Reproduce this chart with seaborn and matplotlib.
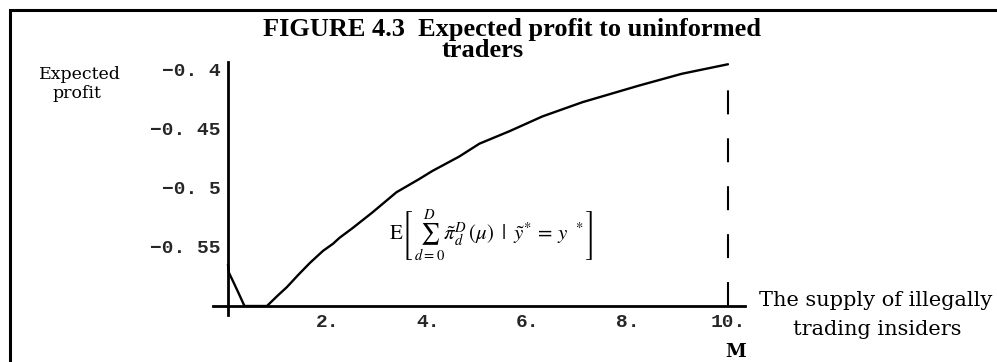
import matplotlib
matplotlib.use("Agg")
import matplotlib.pyplot as plt
from matplotlib.patches import Rectangle
import seaborn as sns
import pandas as pd

# Expected profit to uninformed traders as a function of the insider supply
supply = [0.0, 0.02, 0.1, 0.2, 0.33, 0.5, 0.65, 0.78, 1.0, 1.18, 1.4, 1.64, 1.9,
          2.1, 2.23, 2.5, 2.89, 3.37, 3.82, 4.09, 4.62, 5.03, 5.63, 6.29, 7.09,
          8.22, 9.08, 10.0]
profit = [-0.565, -0.572, -0.579, -0.588, -0.6, -0.6, -0.6, -0.6, -0.591, -0.584,
          -0.574, -0.5636, -0.5535, -0.5475, -0.5425, -0.534, -0.521, -0.504,
          -0.493, -0.486, -0.474, -0.463, -0.4525, -0.44, -0.428, -0.414,
          -0.404, -0.396]

# Upper bound M on the supply, marked by a dashed line
supply_max = 10.0
marker_top = -0.417

x_ticks = [2, 4, 6, 8, 10]
x_tick_labels = ["2.", "4.", "6.", "8.", "10."]
y_ticks = [-0.55, -0.5, -0.45, -0.4]
y_tick_labels = ["\u22120. 55", "\u22120. 5", "\u22120. 45", "\u22120. 4"]

sns.set_style("white")
plt.rcParams["font.family"] = ["DejaVu Serif", "Liberation Serif"]
plt.rcParams["mathtext.fontset"] = "stix"

W, H = 997, 362
fig = plt.figure(figsize=(W / 100, H / 100), dpi=100)
ax = fig.add_axes([0.2136, 0.1298, 0.5336, 0.6989])

df = pd.DataFrame({"supply": supply, "profit": profit})
sns.lineplot(data=df, x="supply", y="profit", ax=ax, color="black", lw=1.7,
             sort=False, estimator=None)

ax.plot([supply_max, supply_max], [-0.6, marker_top], color="black", lw=1.5,
        linestyle=(0, (11.5, 11.5)))

ax.set_xlim(-0.3, 10.34)
ax.set_ylim(-0.6076, -0.3941)
ax.set_xlabel("")
ax.set_ylabel("")

for side in ("top", "right"):
    ax.spines[side].set_visible(False)
ax.spines["left"].set_position(("data", 0))
ax.spines["bottom"].set_position(("data", -0.6))
for side in ("left", "bottom"):
    ax.spines[side].set_linewidth(2.0)
    ax.spines[side].set_color("black")

ax.set_xticks(x_ticks)
ax.set_xticklabels(x_tick_labels)
ax.set_yticks(y_ticks)
ax.set_yticklabels(y_tick_labels)
ax.tick_params(direction="inout", length=7, width=1.3, color="black",
               labelsize=14, pad=2)
for lbl in ax.get_xticklabels() + ax.get_yticklabels():
    lbl.set_fontfamily("Liberation Mono")
    lbl.set_fontweight("bold")

ax.text(5.26, -0.541,
        r"$\mathrm{E}\left[\,\sum_{d=0}^{D}\tilde{\pi}_{d}^{D}\,(\mu)\;\;|\;\;"
        r"\tilde{y}^{*}\,=\,y\;\;^{*}\,\right]$",
        ha="center", va="center", fontsize=15, color="black")


def fig_text(px, py, s, **kw):
    fig.text(px / W, 1 - py / H, s, color="black", **kw)


title_font = ["Liberation Serif", "DejaVu Serif"]
fig_text(263, 36, "FIGURE 4.3  Expected profit to uninformed", ha="left",
         va="baseline", fontsize=19, fontweight="bold", family=title_font)
fig_text(442, 57, "traders", ha="left", va="baseline", fontsize=19,
         fontweight="bold", family=title_font)
fig_text(80, 79, "Expected", ha="center", va="baseline", fontsize=12.5)
fig_text(77, 98, "profit", ha="center", va="baseline", fontsize=12.5)
fig_text(876, 306, "The supply of illegally", ha="center", va="baseline",
         fontsize=15)
fig_text(877, 335, "trading insiders", ha="center", va="baseline", fontsize=15)
fig_text(736, 357, "M", ha="center", va="baseline", fontsize=13.5,
         fontweight="bold")

# Frame around the figure panel
fig.add_artist(Rectangle((10 / W, -0.2), 1.2, 1.2 - 10 / H,
                         transform=fig.transFigure, fill=False,
                         edgecolor="black", lw=2.2, clip_on=False))

fig.savefig("out.png", dpi=100, facecolor="white")
